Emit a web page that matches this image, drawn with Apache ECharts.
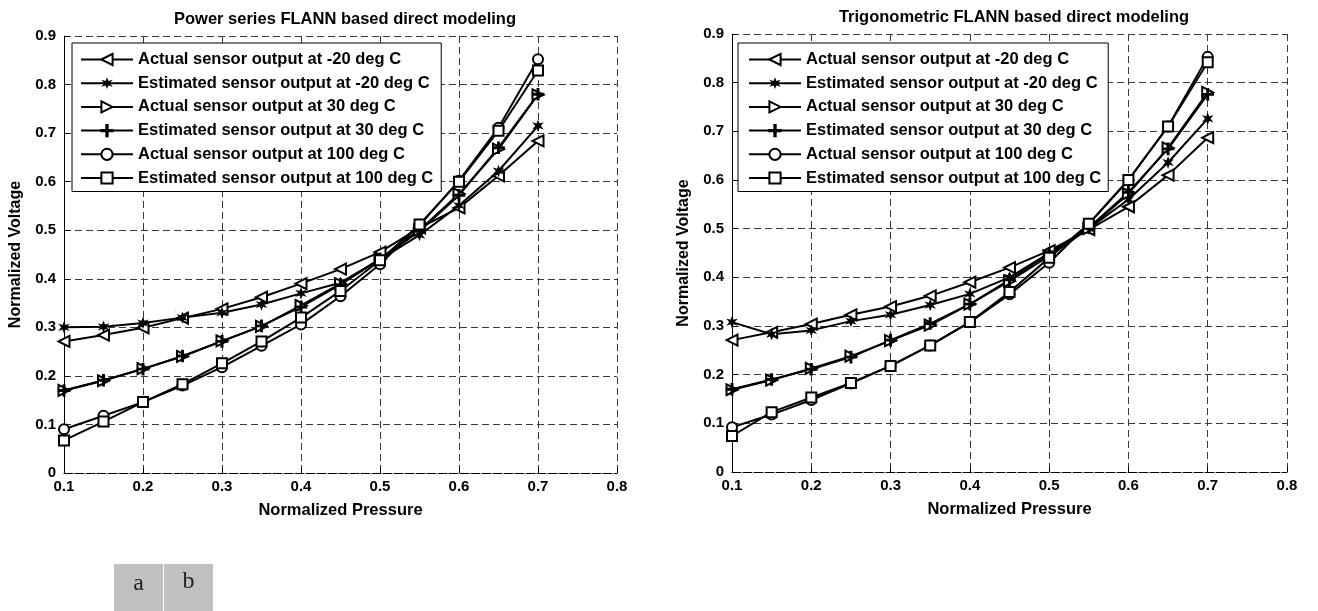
<!DOCTYPE html>
<html>
<head>
<meta charset="utf-8">
<script src="https://cdn.jsdelivr.net/npm/echarts@6/dist/echarts.min.js"></script>
<style>
html,body{margin:0;padding:0;background:#fff;}
#c{width:1318px;height:611px;}
</style>
</head>
<body>
<div id="c"></div>
<script>
// ---- data ----
const pressure = [0.1,0.15,0.2,0.25,0.3,0.35,0.4,0.45,0.5,0.55,0.6,0.65,0.7];
const seriesNames = [
  'Actual sensor output at -20 deg C',
  'Estimated sensor output at -20 deg C',
  'Actual sensor output at 30 deg C',
  'Estimated sensor output at 30 deg C',
  'Actual sensor output at 100 deg C',
  'Estimated sensor output at 100 deg C'
];
const titles = ['Power series FLANN based direct modeling','Trigonometric FLANN based direct modeling'];
const xTicks = [0.1,0.2,0.3,0.4,0.5,0.6,0.7,0.8];
const yTicks = [0,0.1,0.2,0.3,0.4,0.5,0.6,0.7,0.8,0.9];
const panelTags = ['a','b'];

// Power series FLANN (left)
const psActualM20 = [0.271,0.284,0.299,0.319,0.338,0.362,0.390,0.420,0.455,0.505,0.546,0.612,0.684];
const psEstM20    = [0.300,0.301,0.309,0.320,0.330,0.347,0.370,0.392,0.440,0.490,0.551,0.622,0.715];
const psActual30  = [0.170,0.190,0.215,0.240,0.272,0.302,0.345,0.390,0.440,0.500,0.575,0.667,0.779];
const psEst30     = [0.170,0.191,0.214,0.241,0.271,0.303,0.342,0.388,0.441,0.498,0.572,0.670,0.780];
const psActual100 = [0.090,0.118,0.146,0.180,0.218,0.262,0.306,0.364,0.430,0.510,0.602,0.711,0.852];
const psEst100    = [0.067,0.106,0.146,0.183,0.226,0.271,0.320,0.375,0.438,0.512,0.600,0.705,0.829];

// Trigonometric FLANN (right)
const trActualM20 = [0.271,0.287,0.304,0.323,0.340,0.362,0.390,0.420,0.455,0.498,0.545,0.610,0.687];
const trEstM20    = [0.308,0.283,0.291,0.310,0.323,0.343,0.366,0.400,0.450,0.500,0.560,0.636,0.726];
const trActual30  = [0.169,0.189,0.213,0.238,0.270,0.302,0.345,0.392,0.444,0.500,0.572,0.666,0.780];
const trEst30     = [0.170,0.190,0.211,0.236,0.271,0.305,0.345,0.395,0.449,0.502,0.575,0.664,0.776];
const trActual100 = [0.092,0.118,0.148,0.182,0.218,0.260,0.308,0.365,0.430,0.510,0.600,0.710,0.853];
const trEst100    = [0.074,0.123,0.153,0.183,0.218,0.260,0.308,0.370,0.440,0.510,0.600,0.710,0.842];

const leftData = [psActualM20, psEstM20, psActual30, psEst30, psActual100, psEst100];
const rightData = [trActualM20, trEstM20, trActual30, trEst30, trActual100, trEst100];

// ---- styles ----
const FONT = '"Liberation Sans", Arial, sans-serif';
// star drawn inside a wider invisible bounding box so that it stays small in the legend too
const starPath = 'path://M-8,-8 L-8,-7.99 M8,8 L8,7.99 M0,-4.5 L1.2,-1.4 L3.9,-2.25 L2,0 L3.9,2.25 L1.2,1.4 L0,4.5 L-1.2,1.4 L-3.9,2.25 L-2,0 L-3.9,-2.25 L-1.2,-1.4 Z';
const plusPath = 'path://M-0.6,-5 L0.6,-5 L0.6,-0.6 L5,-0.6 L5,0.6 L0.6,0.6 L0.6,5 L-0.6,5 L-0.6,0.6 L-5,0.6 L-5,-0.6 L-0.6,-0.6 Z';
const markers = [
  {symbol:'emptyTriangle', size:11, rotate:90},
  {symbol:starPath, size:14, rotate:0},
  {symbol:'emptyTriangle', size:11, rotate:-90},
  {symbol:plusPath, size:11, rotate:0},
  {symbol:'emptyCircle', size:10, rotate:0},
  {symbol:'emptyRect', size:10, rotate:0}
];

const grids = [
  {left:64, top:36, width:553, height:437},
  {left:732, top:34, width:555, height:438}
];

const GRID_LINE = {color:'#3a3a3a', width:1, type:[7,4]};

function xAxisCfg(i){
  return {
    type:'value', gridIndex:i, min:0.1, max:0.8, interval:0.1,
    name:'Normalized Pressure', nameLocation:'middle', nameGap:29,
    nameTextStyle:{fontFamily:FONT, fontWeight:'bold', fontSize:16.5, color:'#000'},
    axisLine:{show:true, onZero:false, lineStyle:{color:'#000', width:1, type:[9,2]}},
    axisTick:{show:true, inside:true, length:5, lineStyle:{color:'#000'}},
    axisLabel:{fontFamily:FONT, fontWeight:'bold', fontSize:15, color:'#000', margin:6,
      formatter:v=>{const t=xTicks.find(k=>Math.abs(k-v)<1e-6); return t===undefined?'':t.toFixed(1);}},
    splitLine:{show:true, lineStyle:GRID_LINE}
  };
}
function yAxisCfg(i){
  return {
    type:'value', gridIndex:i, min:0, max:0.9, interval:0.1,
    name:'Normalized Voltage', nameLocation:'middle', nameGap:40, nameRotate:90,
    nameTextStyle:{fontFamily:FONT, fontWeight:'bold', fontSize:16, color:'#000'},
    axisLine:{show:true, onZero:false, lineStyle:{color:'#000', width:1}},
    axisTick:{show:true, inside:true, length:5, lineStyle:{color:'#000'}},
    axisLabel:{fontFamily:FONT, fontWeight:'bold', fontSize:15, color:'#000', margin:8,
      formatter:v=>{const t=yTicks.find(k=>Math.abs(k-v)<1e-6); return t===undefined?'':(t===0?'0':t.toFixed(1));}},
    splitLine:{show:true, lineStyle:GRID_LINE}
  };
}

const series = [];
[leftData, rightData].forEach((set, gi)=>{
  set.forEach((vals, si)=>{
    const m = markers[si];
    series.push({
      type:'line', name:seriesNames[si], xAxisIndex:gi, yAxisIndex:gi,
      data: pressure.map((p,k)=>[p, vals[k]]),
      symbol:m.symbol, symbolSize:m.size, symbolRotate:m.rotate, symbolKeepAspect:true,
      showAllSymbol:true,
      lineStyle:{color:'#000', width:2},
      itemStyle:{color:'#000', borderColor:'#000', borderWidth:1.6},
      emphasis:{disabled:true},
      animation:false
    });
  });
});

function legendCfg(left, top, padL, padR){
  return {
    orient:'vertical', left:left, top:top,
    data:seriesNames,
    backgroundColor:'#fff', borderColor:'#000', borderWidth:1,
    padding:[8,padR,5,padL], itemGap:6.7, itemWidth:52, itemHeight:14,
    textStyle:{fontFamily:FONT, fontWeight:'bold', fontSize:16.5, lineHeight:17, color:'#000'},
    selectedMode:false
  };
}

const chart = echarts.init(document.getElementById('c'), null, {renderer:'canvas'});
chart.setOption({
  backgroundColor:'#fff',
  animation:false,
  title:[
    {text:titles[0], left:340, top:6, textAlign:'center', textStyle:{fontFamily:FONT, fontWeight:'bold', fontSize:16.5, color:'#000'}},
    {text:titles[1], left:1009, top:4, textAlign:'center', textStyle:{fontFamily:FONT, fontWeight:'bold', fontSize:16.5, color:'#000'}}
  ],
  grid:grids,
  xAxis:[xAxisCfg(0), xAxisCfg(1)],
  yAxis:[yAxisCfg(0), yAxisCfg(1)],
  legend:[legendCfg(72,43,8,8), legendCfg(738,43,10,7)],
  series:series,
  graphic:[
    {type:'rect', left:114, top:564, shape:{width:49, height:47}, style:{fill:'#c0c0c0'}},
    {type:'rect', left:164, top:564, shape:{width:49, height:47}, style:{fill:'#c0c0c0'}},
    {type:'text', x:138.5, y:584, style:{text:panelTags[0], font:'24px "Liberation Serif", serif', fill:'#222', align:'center', verticalAlign:'middle'}},
    {type:'text', x:188.5, y:582, style:{text:panelTags[1], font:'24px "Liberation Serif", serif', fill:'#222', align:'center', verticalAlign:'middle'}}
  ]
});
</script>
</body>
</html>
